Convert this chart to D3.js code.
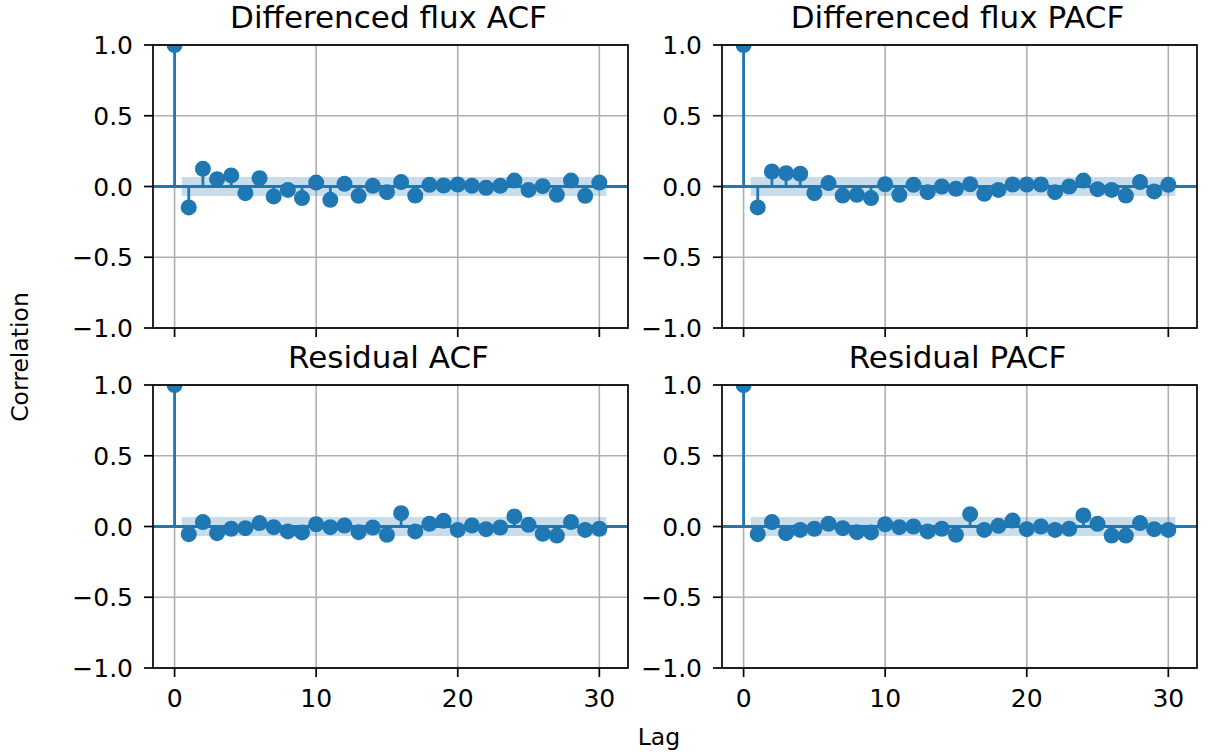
<!DOCTYPE html>
<head>
<meta charset="utf-8">
<title>ACF / PACF</title>
<script src="https://cdn.jsdelivr.net/npm/d3@7"></script>
<style>
body { margin: 0; background: #fff; }
text { font-family: "DejaVu Sans", sans-serif; fill: #000; }
</style>
</head>
<body>
<div id="container"></div>
<script>
//*******************
// data
//*******************
const lags = d3.range(0, 31);
const xTicks = [0, 10, 20, 30];
const yTicks = [-1.0, -0.5, 0.0, 0.5, 1.0];
const titles = ["Differenced flux ACF", "Differenced flux PACF", "Residual ACF", "Residual PACF"];

const diffAcf = [1.0, -0.148, 0.125, 0.052, 0.078, -0.047, 0.059, -0.070, -0.024, -0.082, 0.028,
  -0.094, 0.019, -0.066, 0.005, -0.040, 0.031, -0.064, 0.012, 0.007, 0.014,
  0.005, -0.009, 0.005, 0.042, -0.024, 0.002, -0.059, 0.042, -0.066, 0.028];
const diffPacf = [1.0, -0.148, 0.106, 0.094, 0.090, -0.047, 0.024, -0.064, -0.059, -0.082, 0.016,
  -0.059, 0.012, -0.040, 0.000, -0.016, 0.016, -0.052, -0.024, 0.014, 0.014,
  0.014, -0.040, 0.000, 0.042, -0.019, -0.024, -0.064, 0.031, -0.035, 0.012];
const residAcf = [1.0, -0.054, 0.031, -0.047, -0.016, -0.012, 0.024, -0.005, -0.035, -0.042, 0.016,
  -0.005, 0.007, -0.040, -0.007, -0.059, 0.094, -0.035, 0.019, 0.040, -0.024,
  0.007, -0.019, -0.007, 0.071, 0.012, -0.052, -0.064, 0.031, -0.024, -0.016];
const residPacf = [1.0, -0.054, 0.031, -0.047, -0.024, -0.016, 0.019, -0.012, -0.040, -0.042, 0.016,
  -0.005, 0.000, -0.035, -0.016, -0.059, 0.087, -0.024, 0.005, 0.042, -0.019,
  0.000, -0.024, -0.016, 0.078, 0.019, -0.064, -0.064, 0.024, -0.019, -0.024];
const confBands = [0.067, 0.067, 0.067, 0.067];
const series = [diffAcf, diffPacf, residAcf, residPacf];

//*******************
// layout
//*******************
const W = 1210, H = 756;
const pw = 475, ph = 283;
const lefts = [153, 722];
const tops = [45, 385];
const blue = "#1f77b4";
const tickFont = "25px";

const svg = d3.select("#container").append("svg")
  .attr("width", W).attr("height", H);

const x = d3.scaleLinear().domain([-1.525, 32.025]).range([0, pw]);
const y = d3.scaleLinear().domain([-1, 1]).range([ph, 0]);

series.forEach(function(vals, i) {
  const col = i % 2, row = Math.floor(i / 2);
  const g = svg.append("g").attr("transform", "translate(" + lefts[col] + "," + tops[row] + ")");

  g.append("clipPath").attr("id", "clip" + i)
    .append("rect").attr("width", pw).attr("height", ph);

  // grid
  g.append("g").selectAll("line").data(xTicks).enter().append("line")
    .attr("x1", d => x(d)).attr("x2", d => x(d)).attr("y1", 0).attr("y2", ph)
    .attr("stroke", "#b0b0b0").attr("stroke-width", 1.6);
  g.append("g").selectAll("line").data(yTicks).enter().append("line")
    .attr("y1", d => y(d)).attr("y2", d => y(d)).attr("x1", 0).attr("x2", pw)
    .attr("stroke", "#b0b0b0").attr("stroke-width", 1.6);

  const plot = g.append("g").attr("clip-path", "url(#clip" + i + ")");

  // confidence band
  const cb = confBands[i];
  plot.append("rect")
    .attr("x", x(0.5)).attr("width", x(30.5) - x(0.5))
    .attr("y", y(cb)).attr("height", y(-cb) - y(cb))
    .attr("fill", blue).attr("fill-opacity", 0.25);

  // zero line
  plot.append("line")
    .attr("x1", 0).attr("x2", pw).attr("y1", y(0)).attr("y2", y(0))
    .attr("stroke", blue).attr("stroke-width", 3.2);

  // stems
  plot.selectAll("line.stem").data(vals).enter().append("line")
    .attr("x1", (d, k) => x(lags[k])).attr("x2", (d, k) => x(lags[k]))
    .attr("y1", y(0)).attr("y2", d => y(d))
    .attr("stroke", blue).attr("stroke-width", 2.8);

  // markers
  plot.selectAll("circle").data(vals).enter().append("circle")
    .attr("cx", (d, k) => x(lags[k])).attr("cy", d => y(d))
    .attr("r", 8).attr("fill", blue);

  // spines
  g.append("rect").attr("width", pw).attr("height", ph)
    .attr("fill", "none").attr("stroke", "#000").attr("stroke-width", 1.7);

  // y axis
  const ya = g.append("g");
  ya.selectAll("line").data(yTicks).enter().append("line")
    .attr("x1", -9).attr("x2", 0).attr("y1", d => y(d)).attr("y2", d => y(d))
    .attr("stroke", "#000").attr("stroke-width", 1.7);
  ya.selectAll("text").data(yTicks).enter().append("text")
    .attr("x", -20).attr("y", d => y(d)).attr("dy", "0.36em")
    .attr("text-anchor", "end").style("font-size", tickFont)
    .text(d => d3.format(".1f")(d).replace("-", "\u2212"));

  // x axis
  const xa = g.append("g").attr("transform", "translate(0," + ph + ")");
  xa.selectAll("line").data(xTicks).enter().append("line")
    .attr("x1", d => x(d)).attr("x2", d => x(d)).attr("y1", 0).attr("y2", 9)
    .attr("stroke", "#000").attr("stroke-width", 1.7);
  if (row === 1) {
    xa.selectAll("text").data(xTicks).enter().append("text")
      .attr("x", d => x(d)).attr("y", 38.5)
      .attr("text-anchor", "middle").style("font-size", tickFont)
      .text(d => d);
  }

  // title
  g.append("text").attr("x", pw / 2 - 2).attr("y", -17)
    .attr("text-anchor", "middle").style("font-size", "31px")
    .text(titles[i]);
});

// shared labels
svg.append("text")
  .attr("transform", "translate(28,357) rotate(-90)")
  .attr("text-anchor", "middle").style("font-size", "23.5px")
  .text("Correlation");

svg.append("text")
  .attr("x", 659).attr("y", 745)
  .attr("text-anchor", "middle").style("font-size", "23.5px")
  .text("Lag");
</script>
</body>
